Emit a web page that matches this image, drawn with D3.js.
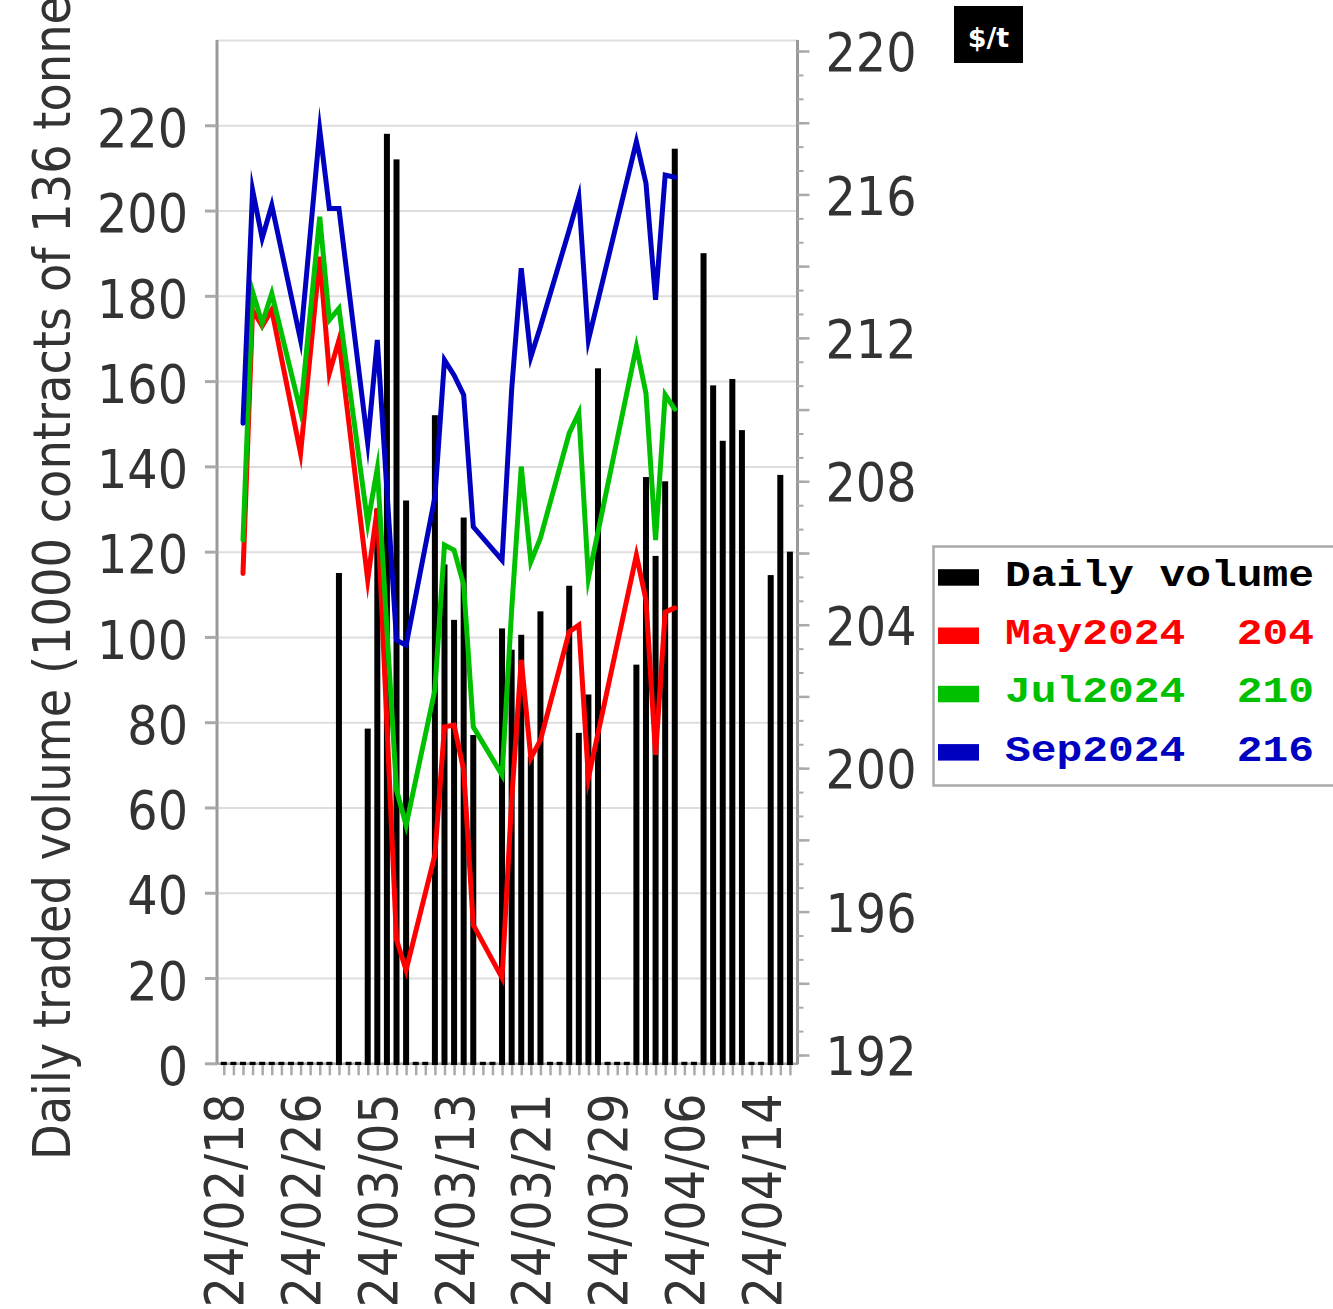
<!DOCTYPE html>
<html><head><meta charset="utf-8">
<script src="https://cdn.jsdelivr.net/npm/d3@7"></script>
<style>
html,body{margin:0;padding:0;background:#fff;}
svg{display:block;}
.lbl{font-family:"DejaVu Sans Condensed","DejaVu Sans",sans-serif;font-stretch:condensed;font-size:53px;fill:#333;}
.leg{font-family:"Courier New","Liberation Mono",monospace;font-weight:bold;font-size:37px;white-space:pre;}
</style></head><body>
<svg id="chart" width="1333" height="1309"></svg>
<script>
// ---------- data ----------
const firstDay = "2024-02-18";
// daily volume (1000 contracts), one value per calendar day from firstDay
const volume = [0,0,0,0,0,0,0,0,0,0,0,0,
  115,0,0,78.5,130,218,212,132,0,0,
  152,117,104,128,77,0,0,
  102,97,100.5,72,106,0,0,
  112,77.5,86.5,163,0,0,0,
  93.5,137.5,119,136.5,214.5,0,0,
  190,159,146,160.5,148.5,0,0,
  114.5,138,120];
const priceDates = ["2024-02-20","2024-02-21","2024-02-22","2024-02-23","2024-02-26","2024-02-28","2024-02-29",
  "2024-03-01","2024-03-04","2024-03-05","2024-03-07","2024-03-08","2024-03-11","2024-03-12","2024-03-13",
  "2024-03-14","2024-03-15","2024-03-18","2024-03-19","2024-03-20","2024-03-21","2024-03-22","2024-03-25",
  "2024-03-26","2024-03-27","2024-04-01","2024-04-02","2024-04-03","2024-04-04","2024-04-05"];
const may2024 = [205.43,212.78,212.33,212.78,208.78,214.26,211.01,211.94,205.25,207.25,195.21,194.37,197.58,201.15,201.20,
  199.95,195.63,194.15,199.11,203.02,200.28,200.78,203.80,203.99,199.73,205.94,204.69,200.37,204.35,204.47];
const jul2024 = [206.36,213.29,212.41,213.24,209.95,215.38,212.50,212.82,206.83,208.36,199.39,198.41,202.18,206.22,206.08,
  205.11,201.15,199.81,204.41,208.41,205.75,206.42,209.34,209.90,205.30,211.75,210.45,206.36,210.41,210.01];
const sep2024 = [209.62,216.12,214.78,215.70,211.94,217.80,215.61,215.61,209.07,211.94,203.57,203.43,207.56,211.38,210.96,
  210.41,206.73,205.80,210.55,213.94,211.47,212.31,215.01,215.94,211.94,217.47,216.31,213.06,216.54,216.48];
const seriesNames = ["May2024","Jul2024","Sep2024"];
const seriesLast = ["204","210","216"];
const seriesColors = ["#ff0000","#00c000","#0000c0"];
const volumeName = "Daily volume";
const leftTicks = [0,20,40,60,80,100,120,140,160,180,200,220];
const rightLabelTicks = [192,196,200,204,208,212,216,220];
const xLabelEvery = 8;
const yTitle = "Daily traded volume (1000 contracts of 136 tonnes)";
const unitLabel = "$/t";

// ---------- setup ----------
const parse = d3.utcParse("%Y-%m-%d");
const d0 = parse(firstDay);
const days = volume.map((v,i)=>d3.utcDay.offset(d0,i));
const dLast = days[days.length-1];
const L=217, R=797.5, T=40, B=1063.3;

const x = d3.scaleUtc().domain([d3.utcHour.offset(d0,-16.25), d3.utcHour.offset(dLast,19)]).range([L,R]);
const yL = d3.scaleLinear().domain([0,240]).range([B,T]);
const yR = d3.scaleLinear().domain([192,220]).range([1055,51]);

const svg = d3.select("#chart");

// grid
const grid = svg.append("g").attr("transform",`translate(${L},0)`)
  .call(d3.axisLeft(yL).tickValues(leftTicks.concat([240])).tickSize(-(R-L)).tickFormat(""));
grid.select(".domain").remove();
grid.selectAll("line").attr("stroke","#dedede").attr("stroke-width",2);

// x axis (bottom)
const fmt = d3.utcFormat("%y/%m/%d");
const xAxis = svg.append("g").attr("transform",`translate(0,${B})`)
  .call(d3.axisBottom(x).tickValues(days).tickSizeOuter(0).tickSize(0)
    .tickFormat((d,i)=> i % xLabelEvery === 0 ? fmt(d) : ""));
xAxis.select(".domain").attr("stroke","#aaa").attr("stroke-width",2.5);
xAxis.selectAll(".tick line").attr("y1",2).attr("y2",12).attr("stroke","#aaa").attr("stroke-width",2.5);
xAxis.selectAll(".tick text").attr("class","lbl").attr("fill",null)
  .attr("transform","rotate(-90)").attr("x",-30).attr("y",0).attr("dy","0.36em")
  .attr("text-anchor","end");
xAxis.attr("font-family",null).attr("font-size",null);

// bars
const bw = 6;
svg.append("g").selectAll("rect").data(volume).join("rect")
  .attr("x",(d,i)=>x(days[i])-bw/2)
  .attr("width",bw)
  .attr("y",d=>Math.min(yL(d),B-1.5))
  .attr("height",d=>B+1.8-Math.min(yL(d),B-1.5))
  .attr("fill","#000");

// left axis
const yAxisL = svg.append("g").attr("transform",`translate(${L},0)`)
  .call(d3.axisLeft(yL).tickValues(leftTicks).tickSize(12).tickSizeOuter(0).tickPadding(17));
yAxisL.select(".domain").attr("d",`M0,${T}V${B+1}`).attr("stroke","#999").attr("stroke-width",3);
yAxisL.selectAll(".tick line").attr("stroke","#aaa").attr("stroke-width",3);
yAxisL.selectAll(".tick text").attr("class","lbl").attr("fill",null).attr("dy","0.4em");
yAxisL.attr("font-family",null).attr("font-size",null);

// right axis minor
const minorVals = d3.range(0,43).map(k=>192+k*2/3);
const yAxisRm = svg.append("g").attr("transform",`translate(${R},0)`)
  .call(d3.axisRight(yR).tickValues(minorVals).tickSize(6).tickFormat(""));
yAxisRm.select(".domain").attr("d",`M0,${T}V${B+1}`).attr("stroke","#999").attr("stroke-width",3);
yAxisRm.selectAll(".tick line").attr("stroke","#aaa").attr("stroke-width",2);
// right axis major
const majorVals = d3.range(192,221,2);
const yAxisR = svg.append("g").attr("transform",`translate(${R},0)`)
  .call(d3.axisRight(yR).tickValues(majorVals).tickSize(12).tickPadding(16)
    .tickFormat(d=> rightLabelTicks.includes(d) ? d : ""));
yAxisR.select(".domain").remove();
yAxisR.selectAll(".tick line").attr("stroke","#aaa").attr("stroke-width",2.5);
yAxisR.selectAll(".tick text").attr("class","lbl").attr("fill",null).attr("dy","0.37em");
yAxisR.attr("font-family",null).attr("font-size",null);

// lines
const pd = priceDates.map(parse);
const seriesVals = [may2024, jul2024, sep2024];
const line = d3.line().x(d=>x(d[0])).y(d=>yR(d[1]));
seriesVals.forEach((vals,si)=>{
  svg.append("path").datum(vals.map((v,i)=>[pd[i],v]))
    .attr("d",line).attr("fill","none").attr("stroke",seriesColors[si])
    .attr("stroke-width",5).attr("stroke-linejoin","miter").attr("stroke-miterlimit",10)
    .attr("stroke-linecap","round");
});

// y title
svg.append("text").attr("class","lbl").style("font-size","51.5px")
  .attr("transform","translate(70,1160) rotate(-90)")
  .attr("text-anchor","start").text(yTitle);

// unit label
const ug = svg.append("g");
ug.append("rect").attr("x",954).attr("y",6).attr("width",69).attr("height",57).attr("fill","#000");
ug.append("text").attr("x",988.5).attr("y",46.5).attr("text-anchor","middle")
  .attr("font-family","DejaVu Sans, sans-serif").attr("font-weight","bold").attr("font-size",27)
  .attr("fill","#fff").text(unitLabel);

// legend
const lg = svg.append("g");
lg.append("rect").attr("x",933.5).attr("y",546.5).attr("width",430).attr("height",239)
  .attr("fill","#fff").attr("stroke","#aaa").attr("stroke-width",2.5);
const legItems = [{name:volumeName, color:"#000"}].concat(seriesNames.map((n,i)=>({
  name: n + "  " + seriesLast[i], color: seriesColors[i]})));
legItems.forEach((it,i)=>{
  const by = 585.7 + i*58.3;
  lg.append("rect").attr("x",938).attr("y",by-16.5).attr("width",41).attr("height",16.5).attr("fill",it.color);
  lg.append("text").attr("class","leg").attr("x",1005).attr("y",by)
    .attr("textLength",309).attr("lengthAdjust","spacingAndGlyphs")
    .attr("fill",it.color).text(it.name);
});
</script>
</body></html>
